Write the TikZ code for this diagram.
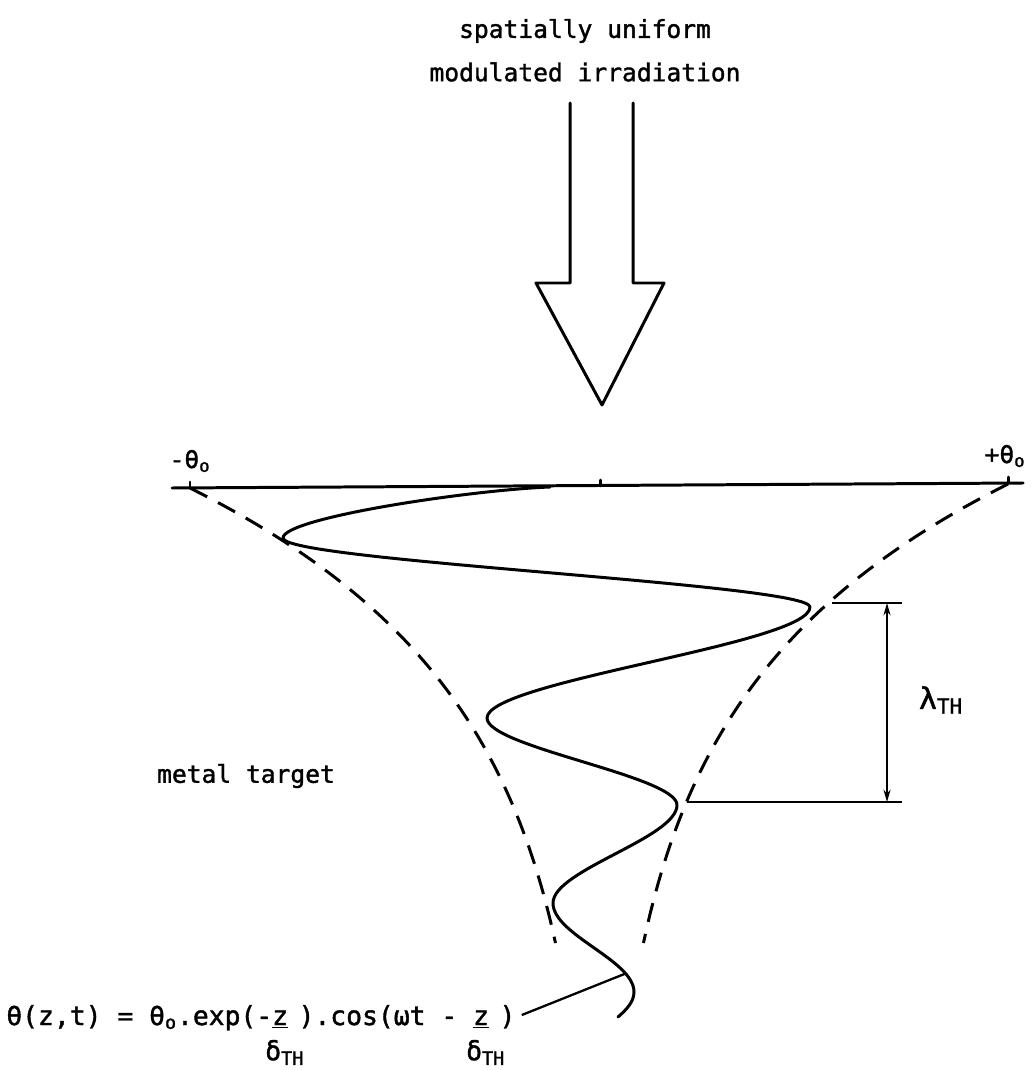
\documentclass[tikz,border=0pt]{standalone}
\usepackage{fontspec}
\setmainfont{DejaVu Sans Mono}[FakeBold=1.5]
\usetikzlibrary{arrows.meta}
\newcommand\myfrac[1]{\begin{tabular}[t]{@{}c@{}}\underline{#1}\\[3pt]\makebox[0.6em][c]{\hspace{0.35em}δ\textsubscript{TH}}\end{tabular}\hspace{0.4em}}
\begin{document}
\begin{tikzpicture}[x=0.02cm,y=-0.02cm,
  lbl/.style={font=\fontsize{14}{16}\selectfont, inner sep=0pt},
  thick line/.style={line width=1.7pt, line cap=round, line join=round},
  env/.style={line width=1.7pt, dash pattern=on 11pt off 7pt},
  thin line/.style={line width=1.3pt}]
\useasboundingbox (0,0) rectangle (1031,1070);
% title
\node[lbl] (t1) at (585,31) {spatially uniform};
\node[lbl] (t2) at (585,72) {modulated irradiation};
% hollow arrow
\draw[thick line] (570,103) -- (570,283) -- (536,283) -- (602,405) -- (664,283) -- (633,283) -- (633,103);
% axis
\coordinate (axL) at (172,488);
\coordinate (axR) at (1023,483);
\draw[thick line] (axL) -- (axR);
\draw[thick line] (190,488) -- (190,482);
\draw[thick line] (600,486) -- (600,480);
\draw[thick line] (1008,483) -- (1008,477);
\node[lbl] (mth) at (190,461) {-θ\textsubscript{o}};
\node[lbl] (pth) at (1005,456) {+θ\textsubscript{o}};
% envelopes
\draw[env] plot[domain=488:943, samples=80] ({600-410*exp(-(\x-488)/205)}, \x);
\draw[env] plot[domain=484:943, samples=80] ({600+408*exp(-(\x-484)/205)}, \x);
% damped wave
\draw[thick line] (550,487) .. controls (470,490) and (283,518) .. (283,538)
 .. controls (283,561) and (810,584) .. (810,607)
 .. controls (810,644) and (487,681) .. (487,718)
 .. controls (487,747) and (677,776) .. (677,805)
 .. controls (677,838) and (553,870) .. (553,903)
 .. controls (553,935) and (634,960) .. (634,992) coordinate[pos=0.8] (lead)
 .. controls (634,1002) and (626,1010) .. (618,1017);
% wavelength
\coordinate (lt1) at (832,603); \coordinate (lt2) at (902,603);
\coordinate (lb1) at (687,802); \coordinate (lb2) at (902,802);
\coordinate (la) at (887,603); \coordinate (lb) at (887,802);
\draw[thin line] (lt1) -- (lt2);
\draw[thin line] (lb1) -- (lb2);
\draw[thin line, {Stealth[length=7pt,width=4pt]}-{Stealth[length=7pt,width=4pt]}] (la) -- (lb);
\node[lbl, font=\fontsize{17}{19}\selectfont] (lam) at (941,700) {λ\textsubscript{TH}};
\node[lbl] (metal) at (246,776) {metal target};
% formula
\node[lbl, font=\fontsize{15}{17}\selectfont, anchor=base west] (form) at (6,1025) {θ(z,t) = θ\textsubscript{o}.exp(-\myfrac{z}).cos(ωt - \myfrac{z})};
\draw[thin line] ([shift={(6,-10)}]form.base east) -- (lead);
\end{tikzpicture}
\end{document}
